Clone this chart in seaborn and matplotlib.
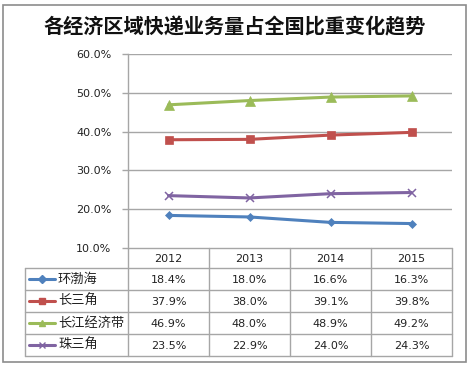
import matplotlib
matplotlib.use("Agg")
import matplotlib.pyplot as plt
import seaborn as sns
import pandas as pd
from matplotlib.lines import Line2D
from matplotlib.patches import Rectangle

years = ["2012", "2013", "2014", "2015"]
series_names = ["环渤海", "长三角", "长江经济带", "珠三角"]
huanbohai = [18.4, 18.0, 16.6, 16.3]
changsanjiao = [37.9, 38.0, 39.1, 39.8]
changjiang = [46.9, 48.0, 48.9, 49.2]
zhusanjiao = [23.5, 22.9, 24.0, 24.3]
yticks = [10, 20, 30, 40, 50, 60]
title = "各经济区域快递业务量占全国比重变化趋势"

values = [huanbohai, changsanjiao, changjiang, zhusanjiao]
colors = ["#4F81BD", "#C0504D", "#9BBB59", "#8064A2"]
markers = ["D", "s", "^", "x"]
msizes = [4.5, 6, 6.5, 6]

sns.set_style("white")
plt.rcParams['font.family'] = ['DejaVu Sans', 'Noto Sans CJK SC']
cjk = ['Noto Sans CJK SC', 'DejaVu Sans']

W, H = 470, 367
fig = plt.figure(figsize=(W / 100, H / 100), dpi=100)

# overlay axes in pixel coordinates for frame and table
tax = fig.add_axes([0, 0, 1, 1], zorder=0)
tax.set_xlim(0, W)
tax.set_ylim(H, 0)
tax.axis("off")
tax.add_patch(Rectangle((3, 5), 463, 357, fill=False, edgecolor="#8C8C8C", lw=1.2))

L, R, T, B = 128, 452, 54, 248
ax = fig.add_axes([L / W, 1 - B / H, (R - L) / W, (B - T) / H], zorder=2)
ax.patch.set_alpha(0)

rows = []
for name, vals in zip(series_names, values):
    for i, v in enumerate(vals):
        rows.append({"idx": i, "value": v, "series": name})
df = pd.DataFrame(rows)

for name, c, m, ms in zip(series_names, colors, markers, msizes):
    sub = df[df["series"] == name]
    sns.lineplot(data=sub, x="idx", y="value", ax=ax, color=c, lw=2.2,
                 marker=m, markersize=ms, markeredgecolor=c,
                 markeredgewidth=1.1 if m == "x" else 0.5, legend=False)

ax.set_xlim(-0.5, len(years) - 0.5)
ax.set_ylim(yticks[0], yticks[-1])
ax.set_yticks(yticks)
ax.set_yticklabels([f"{t:.1f}%" for t in yticks], fontsize=8, color="#222222")
ax.set_xticks([])
ax.set_xlabel("")
ax.set_ylabel("")
for s in ["top", "right", "bottom"]:
    ax.spines[s].set_visible(False)
ax.spines["left"].set_color("#A6A6A6")
ax.spines["left"].set_linewidth(1.0)
ax.tick_params(axis="y", length=4, width=1.0, color="#A6A6A6", pad=8, left=True)
for t in yticks[1:]:
    ax.axhline(t, color="#A6A6A6", lw=1.0, zorder=0)

fig.text(0.5, 1 - 27 / H, title, ha="center", va="center", fontsize=14.5,
         fontweight="bold", family=cjk, color="#111111")

# data table
grid_c = "#A6A6A6"
colw = (R - L) / len(years)
hdr_top, hdr_bot = B, 268
row_h = 22
leg_left = 25
tbl_bot = hdr_bot + row_h * len(series_names)
tax.plot([L, R], [hdr_top, hdr_top], color=grid_c, lw=1.0)
for i in range(len(years) + 1):
    x = L + i * colw
    tax.plot([x, x], [hdr_top, tbl_bot], color=grid_c, lw=1.0)
tax.plot([leg_left, leg_left], [hdr_bot, tbl_bot], color=grid_c, lw=1.0)
for r in range(len(series_names) + 1):
    y = hdr_bot + r * row_h
    tax.plot([leg_left, R], [y, y], color=grid_c, lw=1.0)
for i, yr in enumerate(years):
    tax.text(L + (i + 0.5) * colw, (hdr_top + hdr_bot) / 2 + 1, yr, ha="center",
             va="center", fontsize=8, color="#222222")
for r, (name, vals, c, m) in enumerate(zip(series_names, values, colors, markers)):
    yc = hdr_bot + (r + 0.5) * row_h
    tax.add_line(Line2D([29, 55], [yc, yc], color=c, lw=2.2))
    tax.add_line(Line2D([42], [yc], color=c, marker=m, markersize=4 if m != "^" else 5,
                        markeredgecolor=c, markeredgewidth=1.0))
    tax.text(58, yc, name, ha="left", va="center", fontsize=9.5, family=cjk, color="#222222")
    for i, v in enumerate(vals):
        tax.text(L + (i + 0.5) * colw, yc + 1, f"{v:.1f}%", ha="center", va="center",
                 fontsize=8, color="#222222")

fig.savefig("out.png", dpi=100)
